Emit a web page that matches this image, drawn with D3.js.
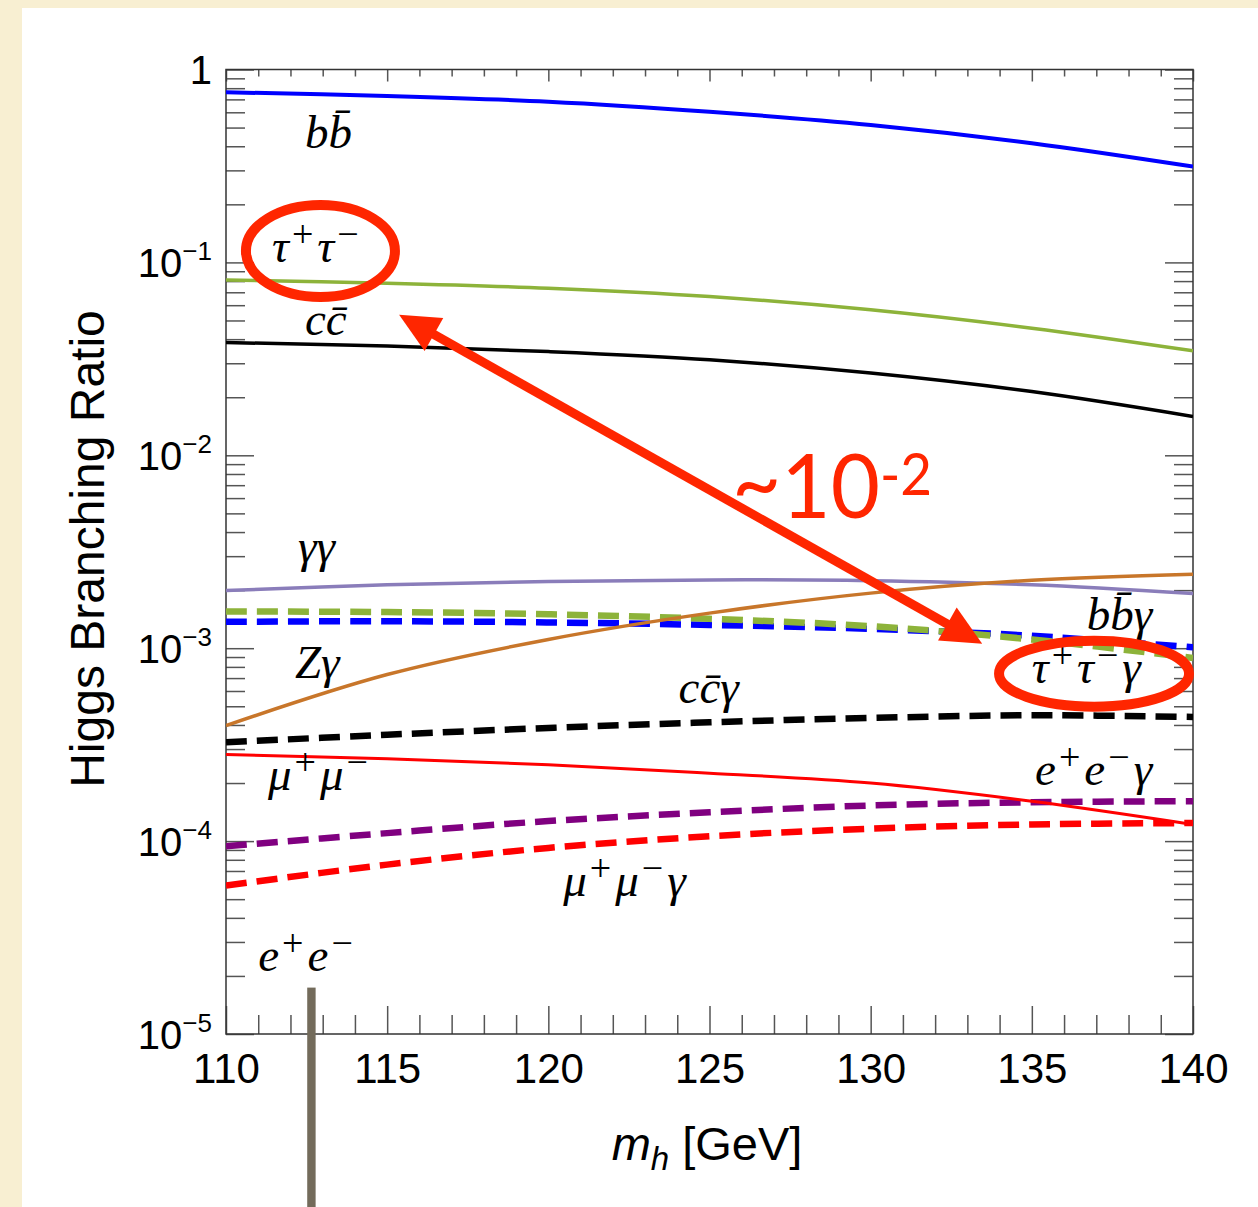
<!DOCTYPE html>
<html>
<head>
<meta charset="utf-8">
<script src="https://cdn.jsdelivr.net/npm/d3@7"></script>
<style>
  body { margin: 0; background: #f8efd2; }
  svg { display: block; }
</style>
</head>
<body>
<svg id="chart"></svg>
<script>
// Higgs mass points (GeV)
const masses = [110, 115, 120, 125, 130, 135, 140];

// branching ratios
const brBB    = [0.762, 0.729, 0.681, 0.604, 0.516, 0.415, 0.314];
const brTauTau = [0.0811, 0.078, 0.0735, 0.0665, 0.0568, 0.0456, 0.0348];
const brCC    = [0.0384, 0.0369, 0.0345, 0.0313, 0.0267, 0.0214, 0.0159];
const brGamGam = [0.00199, 0.00213, 0.00222, 0.00226, 0.00224, 0.00213, 0.00192];
const brZGam  = [0.000397, 0.00073, 0.00111, 0.00152, 0.00193, 0.00225, 0.00242];
const brBBGam = [0.00137, 0.00138, 0.00136, 0.00132, 0.00126, 0.00116, 0.00101];
const brTauTauGam = [0.00155, 0.00154, 0.0015, 0.00142, 0.0013, 0.00111, 0.00089];
const brCCGam = [0.000325, 0.000356, 0.000386, 0.000413, 0.000435, 0.000449, 0.00044];
const brMuMu  = [0.000281, 0.000267, 0.000249, 0.000225, 0.0002, 0.000161, 0.000122];
const brEEGam = [0.000094, 0.00011, 0.000127, 0.000141, 0.000153, 0.000159, 0.000161];
const brMuMuGam = [0.0000588, 0.0000755, 0.0000922, 0.000106, 0.000116, 0.000122, 0.000124];

// axis ticks
const massMajor = [110, 115, 120, 125, 130, 135, 140];
const massMinor = d3.range(110, 141).filter(d => d % 5 !== 0);
const decades = [1e-5, 1e-4, 1e-3, 1e-2, 1e-1, 1];
const decadeLabels = [['10', '−5'], ['10', '−4'], ['10', '−3'], ['10', '−2'], ['10', '−1'], ['1', '']];
const brMinor = decades.slice(0, -1).flatMap(d => [2, 3, 4, 5, 6, 7, 8, 9].map(k => k * d));

// curve labels ('^' marks a superscript), placed in data coordinates
const curveLabels = [
  { m: 112.45, br: 0.392,    parts: ['b', 'b\u0304'] },
  { m: 111.43, br: 0.1006,   parts: ['τ', '^+', 'τ', '^−'] },
  { m: 112.45, br: 0.0421,   parts: ['c', 'c\u0304'] },
  { m: 112.23, br: 0.00281,  parts: ['γγ'] },
  { m: 112.14, br: 0.000703, parts: ['Zγ'] },
  { m: 124.04, br: 0.000521, parts: ['c', 'c\u0304', 'γ'] },
  { m: 136.70, br: 0.00124,  parts: ['b', 'b\u0304', 'γ'] },
  { m: 135.00, br: 0.000662, parts: ['τ', '^+', 'τ', '^−', 'γ'] },
  { m: 135.10, br: 0.000196, parts: ['e', '^+', 'e', '^−', 'γ'] },
  { m: 111.30, br: 0.000185, parts: ['μ', '^+', 'μ', '^−'] },
  { m: 120.46, br: 0.0000522, parts: ['μ', '^+', 'μ', '^−', 'γ'] },
  { m: 111.00, br: 0.0000211, parts: ['e', '^+', 'e', '^−'] }
];

let width = 1258;
let height = 1207;
let plotLeft = 226, plotRight = 1193, plotTop = 69.5, plotBottom = 1034;
let red = '#ff2600';
let sans = '"Liberation Sans", Arial, Helvetica, sans-serif';
let serif = '"Liberation Serif", "Times New Roman", serif';

let svg = d3.select('#chart').attr('width', width).attr('height', height);

// slide background
svg.append('rect').attr('width', width).attr('height', height).attr('fill', '#f8efd2');
svg.append('rect').attr('x', 22).attr('y', 8).attr('width', width - 22).attr('height', height - 8).attr('fill', '#ffffff');

let xScale = d3.scaleLinear().domain([110, 140]).range([plotLeft, plotRight]);
let yScale = d3.scaleLog().domain([1e-5, 1]).range([plotBottom, plotTop]);

svg.append('clipPath').attr('id', 'plot')
  .append('rect')
  .attr('x', plotLeft).attr('y', plotTop)
  .attr('width', plotRight - plotLeft).attr('height', plotBottom - plotTop);

// ticks
let tickGroup = (axis, transform) => {
  let g = svg.append('g').attr('transform', transform).call(axis);
  g.select('.domain').remove();
  g.selectAll('.tick line').attr('stroke', '#555').attr('stroke-width', 1.5);
  return g;
};

let bottomAxis = tickGroup(d3.axisBottom(xScale).tickValues(massMajor).tickSizeInner(-28).tickSizeOuter(0).tickFormat(d3.format('d')),
  'translate(0,' + plotBottom + ')');
bottomAxis.selectAll('text')
  .attr('y', 49).attr('dy', null)
  .attr('fill', '#000').style('font-family', sans).style('font-size', '42px');
tickGroup(d3.axisBottom(xScale).tickValues(massMinor).tickSizeInner(-19).tickSizeOuter(0).tickFormat(''),
  'translate(0,' + plotBottom + ')');
tickGroup(d3.axisTop(xScale).tickValues(massMajor).tickSizeInner(-12).tickSizeOuter(0).tickFormat(''),
  'translate(0,' + plotTop + ')');
tickGroup(d3.axisTop(xScale).tickValues(massMinor).tickSizeInner(-7).tickSizeOuter(0).tickFormat(''),
  'translate(0,' + plotTop + ')');

let leftAxis = tickGroup(d3.axisLeft(yScale).tickValues(decades).tickSizeInner(-28).tickSizeOuter(0).tickFormat(() => ''),
  'translate(' + plotLeft + ',0)');
tickGroup(d3.axisLeft(yScale).tickValues(brMinor).tickSizeInner(-19).tickSizeOuter(0).tickFormat(''),
  'translate(' + plotLeft + ',0)');
tickGroup(d3.axisRight(yScale).tickValues(decades).tickSizeInner(-28).tickSizeOuter(0).tickFormat(''),
  'translate(' + plotRight + ',0)');
tickGroup(d3.axisRight(yScale).tickValues(brMinor).tickSizeInner(-19).tickSizeOuter(0).tickFormat(''),
  'translate(' + plotRight + ',0)');

leftAxis.selectAll('text').each(function (d, i) {
  let lbl = decadeLabels[i];
  let t = d3.select(this)
    .attr('x', -14).attr('y', 14).attr('dy', null)
    .attr('text-anchor', 'end').attr('fill', '#000')
    .style('font-family', sans).style('font-size', '40px');
  t.text(null);
  t.append('tspan').text(lbl[0]);
  if (lbl[1]) t.append('tspan').attr('dy', -17).style('font-size', '26px').text(lbl[1]);
});

// frame
svg.append('rect')
  .attr('x', plotLeft).attr('y', plotTop)
  .attr('width', plotRight - plotLeft).attr('height', plotBottom - plotTop)
  .attr('fill', 'none').attr('stroke', '#333').attr('stroke-width', 1.5);

// curves
let dash = '21,10';
let series = [
  { values: brBBGam,     color: '#0000ff', width: 6.5, dash: dash },
  { values: brTauTauGam, color: '#8db33a', width: 6.5, dash: dash },
  { values: brCCGam,     color: '#000000', width: 6.5, dash: dash },
  { values: brEEGam,     color: '#800080', width: 6.5, dash: dash },
  { values: brMuMuGam,   color: '#ff0000', width: 6.5, dash: dash },
  { values: brBB,        color: '#0000ff', width: 4,   dash: null },
  { values: brTauTau,    color: '#8db33a', width: 3.5, dash: null },
  { values: brCC,        color: '#000000', width: 3.5, dash: null },
  { values: brGamGam,    color: '#8a7dba', width: 3.5, dash: null },
  { values: brZGam,      color: '#c8762a', width: 3.5, dash: null },
  { values: brMuMu,      color: '#ff0000', width: 3,   dash: null }
];

let line = d3.line()
  .x((d, i) => xScale(masses[i]))
  .y(d => yScale(d))
  .curve(d3.curveCatmullRom.alpha(0.5));

svg.append('g').attr('clip-path', 'url(#plot)')
  .selectAll('path')
  .data(series)
  .enter()
  .append('path')
  .attr('d', s => line(s.values))
  .attr('fill', 'none')
  .attr('stroke', s => s.color)
  .attr('stroke-width', s => s.width)
  .attr('stroke-dasharray', s => s.dash);

// curve labels
curveLabels.forEach(lbl => {
  let t = svg.append('text')
    .attr('x', xScale(lbl.m)).attr('y', yScale(lbl.br))
    .attr('fill', '#000')
    .style('font-family', serif).style('font-size', '47px').style('font-style', 'italic');
  let raised = false;
  lbl.parts.forEach(p => {
    if (p[0] === '^') {
      t.append('tspan').attr('dy', raised ? 0 : -15).attr('dx', 3)
        .style('font-style', 'normal').style('font-size', '38px').text(p.slice(1));
      raised = true;
    } else {
      t.append('tspan').attr('dy', raised ? 15 : 0).attr('dx', raised ? 4 : 0).text(p);
      raised = false;
    }
  });
});

// axis titles
svg.append('text')
  .attr('transform', 'translate(104,549) rotate(-90)')
  .attr('text-anchor', 'middle').attr('fill', '#000')
  .style('font-family', sans).style('font-size', '48px')
  .text('Higgs Branching Ratio');

let xTitle = svg.append('text')
  .attr('x', 707).attr('y', 1160)
  .attr('text-anchor', 'middle').attr('fill', '#000')
  .style('font-family', sans).style('font-size', '47px');
xTitle.append('tspan').style('font-style', 'italic').text('m');
xTitle.append('tspan').attr('dy', 10).style('font-style', 'italic').style('font-size', '33px').text('h');
xTitle.append('tspan').attr('dy', -10).text(' [GeV]');

// red annotations
svg.append('ellipse')
  .attr('cx', xScale(112.93)).attr('cy', yScale(0.1147))
  .attr('rx', 74.5).attr('ry', 46)
  .attr('fill', 'none').attr('stroke', red).attr('stroke-width', 10);
svg.append('ellipse')
  .attr('cx', xScale(136.93)).attr('cy', yScale(0.000738))
  .attr('rx', 95).attr('ry', 33)
  .attr('fill', 'none').attr('stroke', red).attr('stroke-width', 10);

let arrowFrom = [xScale(115.37), yScale(0.0535)];
let arrowTo = [xScale(133.46), yScale(0.001055)];
let ax = arrowTo[0] - arrowFrom[0], ay = arrowTo[1] - arrowFrom[1];
let alen = Math.hypot(ax, ay);
let ux = ax / alen, uy = ay / alen;
let headLen = 40, headHalf = 19;
svg.append('line')
  .attr('x1', arrowFrom[0] + ux * headLen * 0.8).attr('y1', arrowFrom[1] + uy * headLen * 0.8)
  .attr('x2', arrowTo[0] - ux * headLen * 0.8).attr('y2', arrowTo[1] - uy * headLen * 0.8)
  .attr('stroke', red).attr('stroke-width', 9);
let head = (tip, dir) => {
  let bx = tip[0] - dir * ux * headLen, by = tip[1] - dir * uy * headLen;
  return [tip, [bx - uy * headHalf, by + ux * headHalf], [bx + uy * headHalf, by - ux * headHalf]]
    .map(p => p.join(',')).join(' ');
};
svg.append('polygon').attr('points', head(arrowTo, 1)).attr('fill', red);
svg.append('polygon').attr('points', head(arrowFrom, -1)).attr('fill', red);

let note = svg.append('text')
  .attr('x', xScale(125.7)).attr('y', yScale(0.00474))
  .attr('fill', red)
  .attr('textLength', 200).attr('lengthAdjust', 'spacingAndGlyphs')
  .style('font-family', '"Gill Sans", Lato, "Open Sans", sans-serif').style('font-size', '90px');
note.append('tspan').attr('dy', -4).text('~');
note.append('tspan').attr('dy', 4).text('10');
note.append('tspan').attr('dy', -23).style('font-size', '58px').text('-2');

// grey bar from the slide
svg.append('rect')
  .attr('x', xScale(112.65) - 4.2).attr('y', yScale(0.0000174))
  .attr('width', 8.4).attr('height', height - yScale(0.0000174))
  .attr('fill', '#736b5b');
</script>
</body>
</html>
